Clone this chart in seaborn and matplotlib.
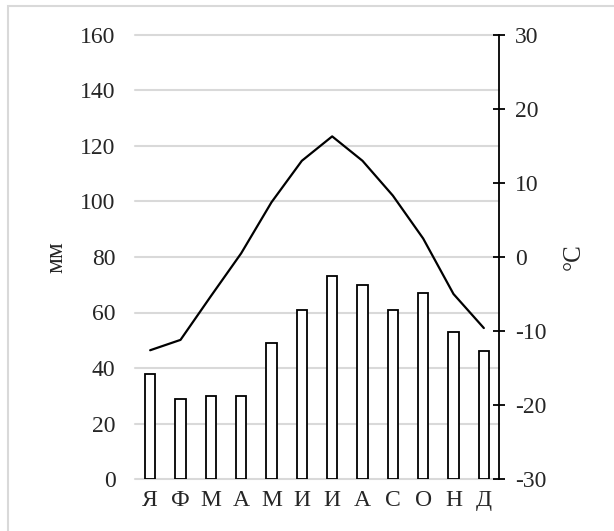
import numpy as np
import pandas as pd
import matplotlib
matplotlib.use('Agg')
import matplotlib.pyplot as plt
import seaborn as sns
from matplotlib.patches import Rectangle

# данные: осадки (мм) и температура (°C) по месяцам
months = ['Я', 'Ф', 'М', 'А', 'М', 'И', 'И', 'А', 'С', 'О', 'Н', 'Д']
precip = [38, 29, 30, 30, 49, 61, 73, 70, 61, 67, 53, 46]
temp = [-12.6, -11.2, -5.3, 0.5, 7.4, 13.0, 16.3, 13.0, 8.3, 2.5, -5.0, -9.6]

df = pd.DataFrame({'idx': range(len(months)), 'precip': precip, 'temp': temp})

sns.set_theme(style='white')
plt.rcParams['font.family'] = ['Liberation Serif', 'DejaVu Serif']
plt.rcParams['axes.unicode_minus'] = False
fs = 17

fig = plt.figure(figsize=(6.14, 5.31), dpi=100)
ax = fig.add_axes([135 / 614, 1 - 479 / 531, 364 / 614, 444 / 531])

# столбцы осадков
sns.barplot(data=df, x='idx', y='precip', ax=ax, color='white',
            edgecolor='black', linewidth=1.3, width=0.33, saturation=1)
ax.set_ylim(0, 160)
ax.set_yticks(np.arange(0, 161, 20))
ax.set_xticks(range(len(months)))
ax.set_xticklabels(months)
ax.set_xlabel('')
ax.set_ylabel('мм', fontsize=18, labelpad=9)
ax.grid(axis='y', color='#d9d9d9', linewidth=1.5)
for gl in ax.get_ygridlines():
    gl.set_clip_on(False)
ax.set_axisbelow(True)
for s in ax.spines.values():
    s.set_visible(False)
ax.tick_params(axis='both', length=0, labelsize=fs)
ax.tick_params(axis='y', pad=14)
ax.tick_params(axis='x', pad=8)

# линия температуры
ax2 = ax.twinx()
sns.lineplot(data=df, x='idx', y='temp', ax=ax2, color='black', linewidth=1.6)
ax2.set_ylim(-30, 30)
ax2.set_yticks(np.arange(-30, 31, 10))
ax2.set_xlim(-0.5, 11.5)
ax2.set_ylabel('°C', fontsize=18, labelpad=12)
ax2.set_xlabel('')
for name, s in ax2.spines.items():
    s.set_visible(name == 'right')
ax2.spines['right'].set_color('black')
ax2.spines['right'].set_linewidth(1.3)
ax2.tick_params(axis='y', direction='inout', length=9, width=1.3,
                color='black', labelsize=fs, pad=7, right=True)
ax2.grid(False)

# рамка
fig.patches.append(Rectangle((8 / 614, -0.1), 1.2, 1.1 - 6 / 531,
                             transform=fig.transFigure, fill=False,
                             edgecolor='#d9d9d9', linewidth=1.5, zorder=0))

fig.savefig('out.png', dpi=100)
